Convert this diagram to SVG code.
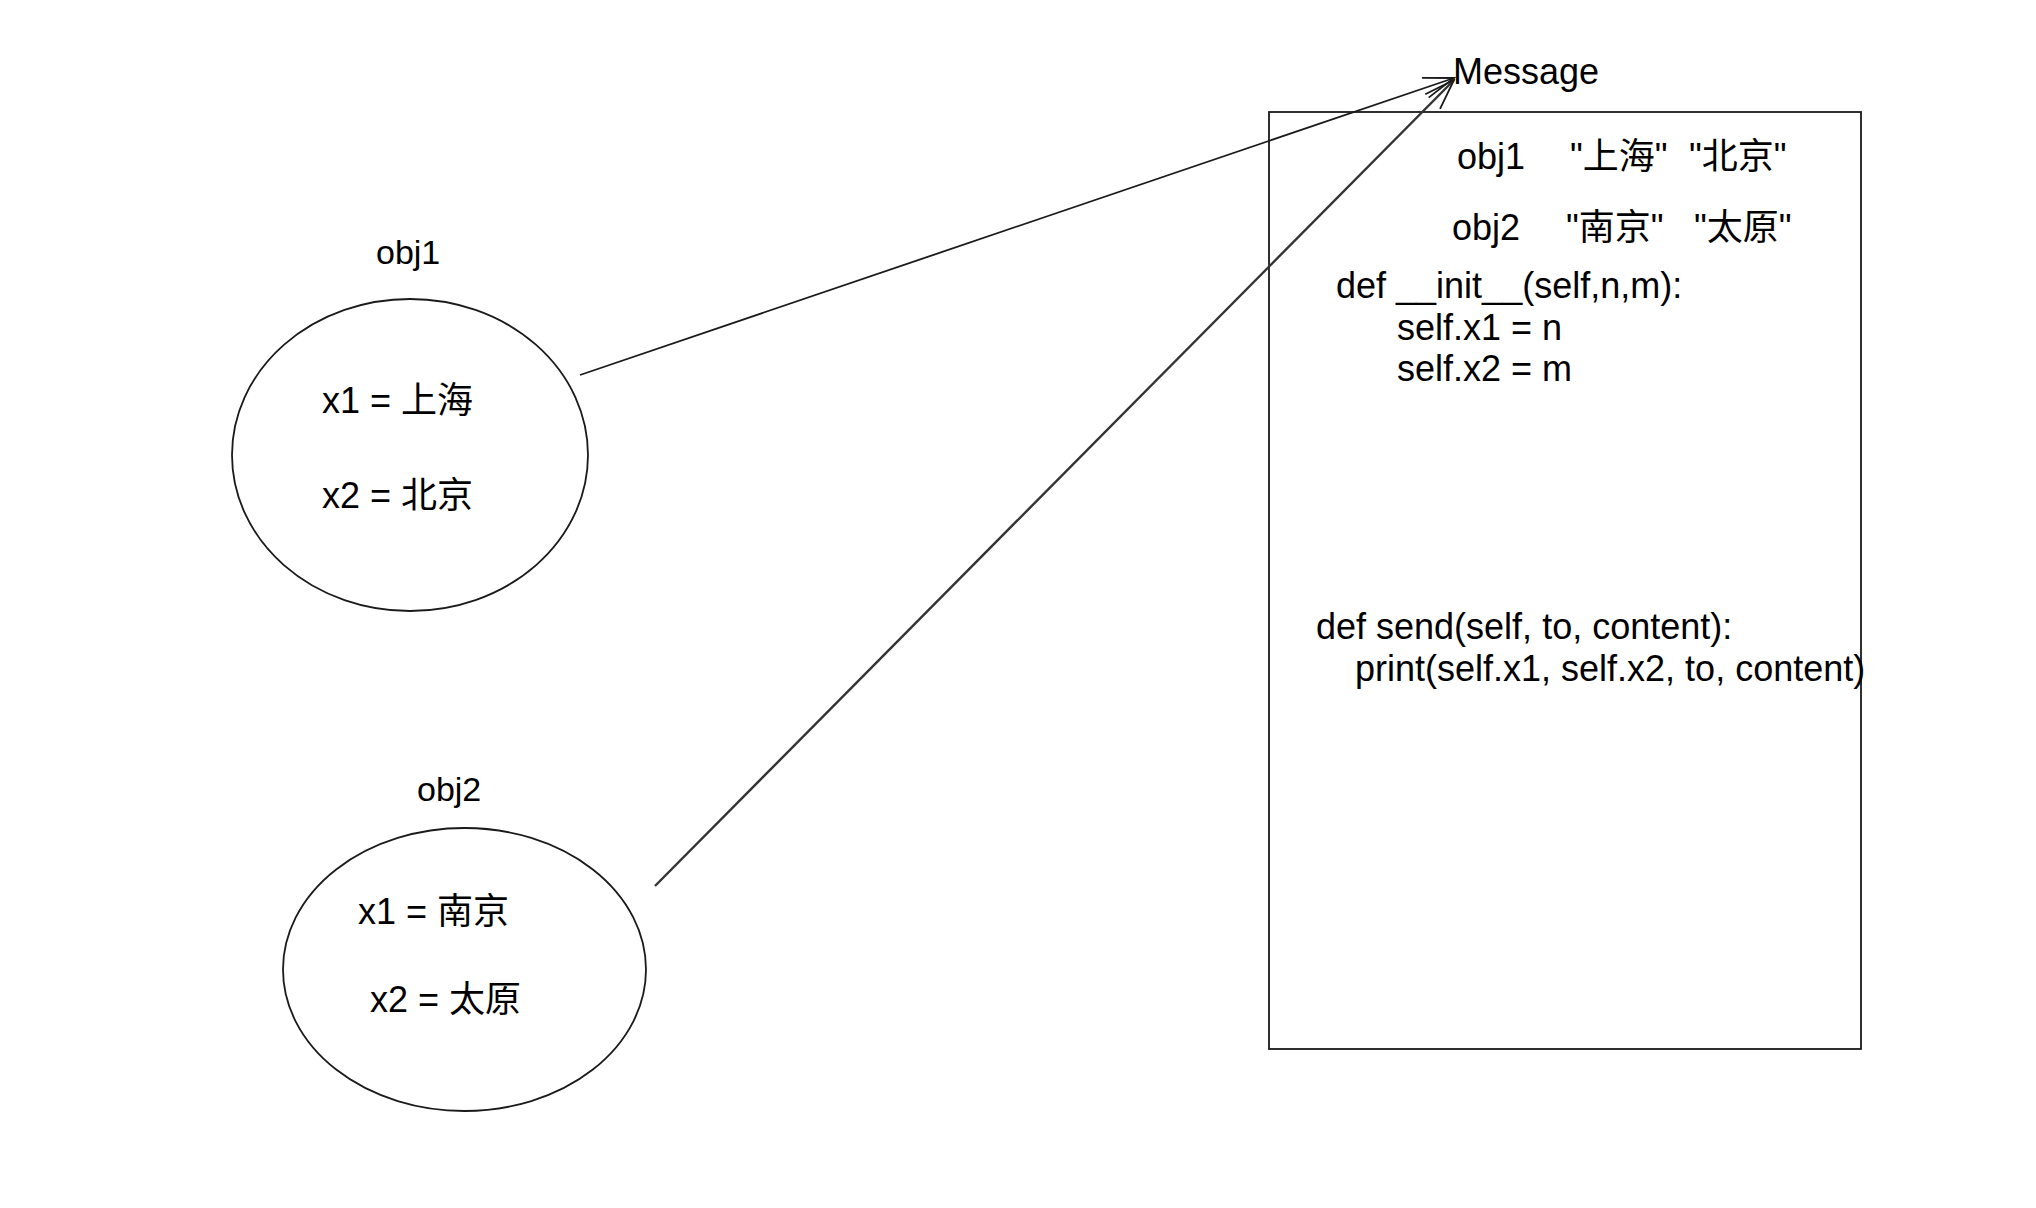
<svg xmlns="http://www.w3.org/2000/svg" width="2036" height="1208" viewBox="0 0 2036 1208">
<style>
  text { font-family: "Liberation Sans", "Noto Sans CJK SC", sans-serif; font-size: 36px; fill: #000; }
  .lbl { font-size: 34px; }
  .shape { fill: #fff; stroke: #1a1a1a; stroke-width: 1.8; }
  .conn { fill: none; stroke: #1a1a1a; stroke-width: 1.8; }
  .conn2 { fill: none; stroke: #333; stroke-width: 2.4; }
</style>
<defs>
  <marker id="open" markerUnits="userSpaceOnUse" viewBox="-33 -13 35 26" refX="0" refY="0" markerWidth="35" markerHeight="26" orient="auto">
    <path d="M-30.3,-10.4 L0,0 L-30.3,10.4" fill="none" stroke="#1a1a1a" stroke-width="1.8"/>
  </marker>
</defs>
<rect width="2036" height="1208" fill="#fff"/>

<g id="message">
  <rect class="shape" x="1269" y="112" width="592" height="937"/>
  <text x="1453" y="84">Message</text>
  <text y="169"><tspan x="1457">obj1</tspan><tspan x="1570">"上海"</tspan><tspan x="1689">"北京"</tspan></text>
  <text y="240"><tspan x="1452">obj2</tspan><tspan x="1566">"南京"</tspan><tspan x="1694">"太原"</tspan></text>
  <text x="1336" y="298">def __init__(self,n,m):</text>
  <text x="1397" y="340">self.x1 = n</text>
  <text x="1397" y="381">self.x2 = m</text>
  <text x="1316" y="639">def send(self, to, content):</text>
  <text x="1355" y="681">print(self.x1, self.x2, to, content)</text>
</g>

<g id="obj1">
  <text class="lbl" x="376" y="264">obj1</text>
  <ellipse class="shape" cx="410" cy="455" rx="178" ry="156"/>
  <text x="322" y="413">x1 = 上海</text>
  <text x="322" y="508">x2 = 北京</text>
</g>

<g id="obj2">
  <text class="lbl" x="417" y="801">obj2</text>
  <ellipse class="shape" cx="464.5" cy="969.5" rx="181.5" ry="141.5"/>
  <text x="358" y="924">x1 = 南京</text>
  <text x="370" y="1012">x2 = 太原</text>
</g>

<g id="connectors">
  <line class="conn" x1="580" y1="375" x2="1454" y2="78" marker-end="url(#open)"/>
  <line class="conn2" x1="655" y1="886" x2="1454" y2="80" marker-end="url(#open)"/>
</g>
</svg>
